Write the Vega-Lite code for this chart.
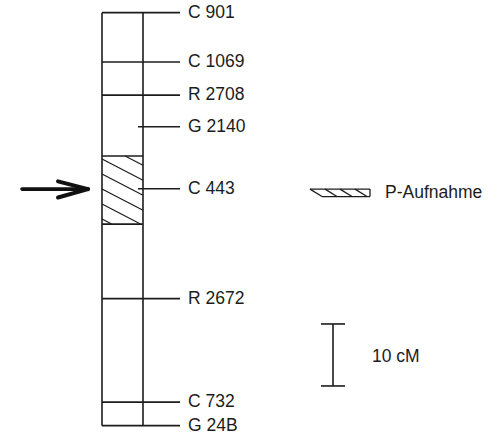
{
  "$schema": "https://vega.github.io/schema/vega-lite/v6.json",
  "width": 497,
  "height": 436,
  "autosize": {"type": "fit", "contains": "padding"},
  "padding": 0,
  "background": "white",
  "config": {"view": {"stroke": null}},
  "datasets": {
    "markers": [
      {"marker": "C 901", "cM": 0, "span": "full"},
      {"marker": "C 1069", "cM": 7.95, "span": "full"},
      {"marker": "R 2708", "cM": 13.3, "span": "full"},
      {"marker": "G 2140", "cM": 18.4, "span": "short"},
      {"marker": "C 443", "cM": 28.4, "span": "short"},
      {"marker": "R 2672", "cM": 46.1, "span": "full"},
      {"marker": "C 732", "cM": 62.8, "span": "full"},
      {"marker": "G 24B", "cM": 66.6, "span": "full"}
    ],
    "region": [{"label": "P-Aufnahme", "from": 23.1, "to": 34.1}],
    "hatch": [
      {"x": 12.51, "y": 23.11, "x2": 14.3, "y2": 24.61},
      {"x": 10.2, "y": 23.6, "x2": 14.3, "y2": 27.03},
      {"x": 10.2, "y": 26.02, "x2": 14.3, "y2": 29.45},
      {"x": 10.2, "y": 28.44, "x2": 14.3, "y2": 31.87},
      {"x": 10.2, "y": 30.85, "x2": 14.05, "y2": 34.08},
      {"x": 10.2, "y": 33.27, "x2": 11.16, "y2": 34.08}
    ],
    "keySymbol": [
      {"x": 31.0, "y": 28.45, "x2": 37.0, "y2": 28.45},
      {"x": 32.2, "y": 29.65, "x2": 37.0, "y2": 29.65},
      {"x": 37.0, "y": 28.45, "x2": 37.0, "y2": 29.65},
      {"x": 31.0, "y": 28.45, "x2": 32.2, "y2": 29.65},
      {"x": 32.5, "y": 28.45, "x2": 33.7, "y2": 29.65},
      {"x": 34.0, "y": 28.45, "x2": 35.2, "y2": 29.65},
      {"x": 35.5, "y": 28.45, "x2": 36.7, "y2": 29.65}
    ],
    "scaleBar": [{"label": "10 cM", "from": 50.2, "to": 60.2}]
  },
  "layer": [
    {
      "description": "chromosome outline: two vertical strands",
      "data": {"values": [{}]},
      "mark": {"type": "rule", "stroke": "#1c1c1c", "strokeWidth": 1.6},
      "encoding": {
        "x": {"datum": 10.2, "type": "quantitative", "scale": {"domain": [0, 49.7], "nice": false, "zero": false}, "axis": null},
        "y": {"datum": 0, "type": "quantitative", "scale": {"domain": [-2.05, 68.27], "reverse": true, "nice": false, "zero": false}, "axis": null},
        "y2": {"datum": 66.6}
      }
    },
    {
      "data": {"values": [{}]},
      "mark": {"type": "rule", "stroke": "#1c1c1c", "strokeWidth": 1.6},
      "encoding": {
        "x": {"datum": 14.3, "type": "quantitative", "scale": {"domain": [0, 49.7], "nice": false, "zero": false}, "axis": null},
        "y": {"datum": 0, "type": "quantitative", "scale": {"domain": [-2.05, 68.27], "reverse": true, "nice": false, "zero": false}, "axis": null},
        "y2": {"datum": 66.6}
      }
    },
    {
      "description": "marker ticks across the whole chromosome",
      "data": {"name": "markers"},
      "transform": [{"filter": "datum.span === 'full'"}],
      "mark": {"type": "rule", "stroke": "#1c1c1c", "strokeWidth": 1.7},
      "encoding": {
        "x": {"datum": 10.2, "type": "quantitative", "scale": {"domain": [0, 49.7], "nice": false, "zero": false}, "axis": null},
        "x2": {"datum": 18.0},
        "y": {"field": "cM", "type": "quantitative", "scale": {"domain": [-2.05, 68.27], "reverse": true, "nice": false, "zero": false}, "axis": null}
      }
    },
    {
      "description": "marker ticks starting at the right strand",
      "data": {"name": "markers"},
      "transform": [{"filter": "datum.span === 'short'"}],
      "mark": {"type": "rule", "stroke": "#1c1c1c", "strokeWidth": 1.5},
      "encoding": {
        "x": {"datum": 13.8, "type": "quantitative", "scale": {"domain": [0, 49.7], "nice": false, "zero": false}, "axis": null},
        "x2": {"datum": 18.0},
        "y": {"field": "cM", "type": "quantitative", "scale": {"domain": [-2.05, 68.27], "reverse": true, "nice": false, "zero": false}, "axis": null}
      }
    },
    {
      "description": "marker names",
      "data": {"name": "markers"},
      "mark": {"type": "text", "align": "left", "baseline": "middle", "font": "Liberation Sans", "fontSize": 17.5, "fill": "#1c1c1c"},
      "encoding": {
        "x": {"datum": 18.8, "type": "quantitative", "scale": {"domain": [0, 49.7], "nice": false, "zero": false}, "axis": null},
        "y": {"field": "cM", "type": "quantitative", "scale": {"domain": [-2.05, 68.27], "reverse": true, "nice": false, "zero": false}, "axis": null},
        "text": {"field": "marker"}
      }
    },
    {
      "description": "boundaries of the P-Aufnahme segment",
      "data": {"name": "region"},
      "mark": {"type": "rule", "stroke": "#1c1c1c", "strokeWidth": 1.6},
      "encoding": {
        "x": {"datum": 10.2, "type": "quantitative", "scale": {"domain": [0, 49.7], "nice": false, "zero": false}, "axis": null},
        "x2": {"datum": 14.3},
        "y": {"field": "from", "type": "quantitative", "scale": {"domain": [-2.05, 68.27], "reverse": true, "nice": false, "zero": false}, "axis": null}
      }
    },
    {
      "data": {"name": "region"},
      "mark": {"type": "rule", "stroke": "#1c1c1c", "strokeWidth": 1.6},
      "encoding": {
        "x": {"datum": 10.2, "type": "quantitative", "scale": {"domain": [0, 49.7], "nice": false, "zero": false}, "axis": null},
        "x2": {"datum": 14.3},
        "y": {"field": "to", "type": "quantitative", "scale": {"domain": [-2.05, 68.27], "reverse": true, "nice": false, "zero": false}, "axis": null}
      }
    },
    {
      "description": "diagonal hatching of the segment and of its key symbol",
      "data": {"name": "hatch"},
      "mark": {"type": "rule", "stroke": "#1c1c1c", "strokeWidth": 1.2},
      "encoding": {
        "x": {"field": "x", "type": "quantitative", "scale": {"domain": [0, 49.7], "nice": false, "zero": false}, "axis": null},
        "x2": {"field": "x2"},
        "y": {"field": "y", "type": "quantitative", "scale": {"domain": [-2.05, 68.27], "reverse": true, "nice": false, "zero": false}, "axis": null},
        "y2": {"field": "y2"}
      }
    },
    {
      "data": {"name": "keySymbol"},
      "mark": {"type": "rule", "stroke": "#1c1c1c", "strokeWidth": 1.3},
      "encoding": {
        "x": {"field": "x", "type": "quantitative", "scale": {"domain": [0, 49.7], "nice": false, "zero": false}, "axis": null},
        "x2": {"field": "x2"},
        "y": {"field": "y", "type": "quantitative", "scale": {"domain": [-2.05, 68.27], "reverse": true, "nice": false, "zero": false}, "axis": null},
        "y2": {"field": "y2"}
      }
    },
    {
      "data": {"name": "region"},
      "mark": {"type": "text", "align": "left", "baseline": "middle", "font": "Liberation Sans", "fontSize": 17.5, "fill": "#1c1c1c"},
      "encoding": {
        "x": {"datum": 38.5, "type": "quantitative", "scale": {"domain": [0, 49.7], "nice": false, "zero": false}, "axis": null},
        "y": {"datum": 29.0, "type": "quantitative", "scale": {"domain": [-2.05, 68.27], "reverse": true, "nice": false, "zero": false}, "axis": null},
        "text": {"field": "label"}
      }
    },
    {
      "description": "arrow pointing at the segment",
      "data": {"values": [{}]},
      "mark": {"type": "rule", "stroke": "#111", "strokeWidth": 3.6, "strokeCap": "round"},
      "encoding": {
        "x": {"datum": 2.2, "type": "quantitative", "scale": {"domain": [0, 49.7], "nice": false, "zero": false}, "axis": null},
        "x2": {"datum": 8.7},
        "y": {"datum": 28.45, "type": "quantitative", "scale": {"domain": [-2.05, 68.27], "reverse": true, "nice": false, "zero": false}, "axis": null}
      }
    },
    {
      "data": {"values": [{}]},
      "mark": {"type": "rule", "stroke": "#111", "strokeWidth": 4, "strokeCap": "round"},
      "encoding": {
        "x": {"datum": 5.8, "type": "quantitative", "scale": {"domain": [0, 49.7], "nice": false, "zero": false}, "axis": null},
        "x2": {"datum": 8.8},
        "y": {"datum": 27.2, "type": "quantitative", "scale": {"domain": [-2.05, 68.27], "reverse": true, "nice": false, "zero": false}, "axis": null},
        "y2": {"datum": 28.45}
      }
    },
    {
      "data": {"values": [{}]},
      "mark": {"type": "rule", "stroke": "#111", "strokeWidth": 4, "strokeCap": "round"},
      "encoding": {
        "x": {"datum": 5.8, "type": "quantitative", "scale": {"domain": [0, 49.7], "nice": false, "zero": false}, "axis": null},
        "x2": {"datum": 8.8},
        "y": {"datum": 29.8, "type": "quantitative", "scale": {"domain": [-2.05, 68.27], "reverse": true, "nice": false, "zero": false}, "axis": null},
        "y2": {"datum": 28.45}
      }
    },
    {
      "description": "10 cM scale bar",
      "data": {"name": "scaleBar"},
      "mark": {"type": "rule", "stroke": "#1c1c1c", "strokeWidth": 1.6},
      "encoding": {
        "x": {"datum": 33.3, "type": "quantitative", "scale": {"domain": [0, 49.7], "nice": false, "zero": false}, "axis": null},
        "y": {"field": "from", "type": "quantitative", "scale": {"domain": [-2.05, 68.27], "reverse": true, "nice": false, "zero": false}, "axis": null},
        "y2": {"field": "to"}
      }
    },
    {
      "data": {"name": "scaleBar"},
      "mark": {"type": "rule", "stroke": "#1c1c1c", "strokeWidth": 1.6},
      "encoding": {
        "x": {"datum": 32.1, "type": "quantitative", "scale": {"domain": [0, 49.7], "nice": false, "zero": false}, "axis": null},
        "x2": {"datum": 34.5},
        "y": {"field": "from", "type": "quantitative", "scale": {"domain": [-2.05, 68.27], "reverse": true, "nice": false, "zero": false}, "axis": null}
      }
    },
    {
      "data": {"name": "scaleBar"},
      "mark": {"type": "rule", "stroke": "#1c1c1c", "strokeWidth": 1.6},
      "encoding": {
        "x": {"datum": 32.1, "type": "quantitative", "scale": {"domain": [0, 49.7], "nice": false, "zero": false}, "axis": null},
        "x2": {"datum": 34.5},
        "y": {"field": "to", "type": "quantitative", "scale": {"domain": [-2.05, 68.27], "reverse": true, "nice": false, "zero": false}, "axis": null}
      }
    },
    {
      "data": {"name": "scaleBar"},
      "mark": {"type": "text", "align": "left", "baseline": "middle", "font": "Liberation Sans", "fontSize": 17.5, "fill": "#1c1c1c"},
      "encoding": {
        "x": {"datum": 37.2, "type": "quantitative", "scale": {"domain": [0, 49.7], "nice": false, "zero": false}, "axis": null},
        "y": {"datum": 55.5, "type": "quantitative", "scale": {"domain": [-2.05, 68.27], "reverse": true, "nice": false, "zero": false}, "axis": null},
        "text": {"field": "label"}
      }
    }
  ]
}
